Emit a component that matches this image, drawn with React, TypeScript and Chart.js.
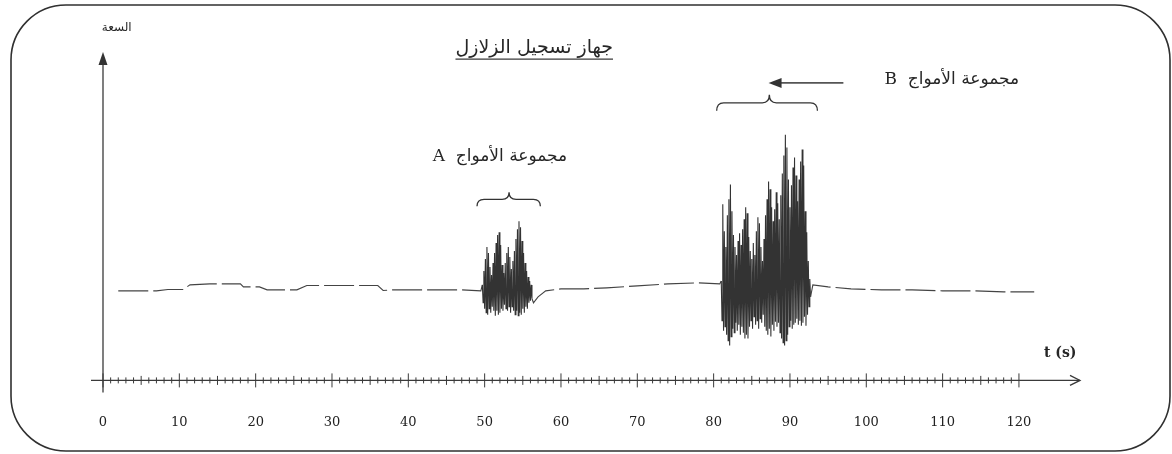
import React, { useEffect, useRef } from "react";
import { Chart, registerables } from "chart.js";

Chart.register(...registerables);

// ---- text ----
const titleText = "جهاز تسجيل الزلازل";
const yAxisLabel = "السعة";
const xAxisLabel = "t (s)";
const groupALabel = "مجموعة الأمواج  A";
const groupBLabel = "مجموعة الأمواج  B";

// ---- axis ticks (s) ----
const tickValues = [0, 10, 20, 30, 40, 50, 60, 70, 80, 90, 100, 110, 120];

// ---- quiet trace segments (time s, amplitude) ----
const quiet1Times = [2, 5, 7, 8.5, 10.5, 11.4, 14, 18, 18.4, 20.5, 21.5, 25.4, 26.7, 31, 36, 36.7, 38, 43, 47, 49.5];
const quiet1Values = [0, 0, 0, 0.07, 0.07, 0.3, 0.35, 0.35, 0.2, 0.2, 0.05, 0.05, 0.27, 0.27, 0.27, 0.02, 0.05, 0.05, 0.05, 0];

const quiet2Times = [56.4, 57, 58, 60, 63, 66, 70, 74, 78, 80.8];
const quiet2Values = [-0.6, -0.3, 0, 0.1, 0.1, 0.15, 0.25, 0.35, 0.4, 0.35];

const quiet3Times = [93, 95, 98, 102, 106, 110, 114, 118, 122];
const quiet3Values = [0.3, 0.2, 0.1, 0.05, 0.05, 0, 0, -0.05, -0.05];

// ---- wave group A, sampled every 0.1 s from 49.7 s ----
const burstAStart = 49.7;
const burstAStep = 0.1;
const burstAValues = [
  0.3, -0.6, 1.0, -0.9, 1.6, -1.1, 2.2, -1.2, 1.9, -0.9,
  1.2, -1.1, 0.8, -0.8, 1.4, -1.0, 1.9, -1.25, 2.4, -1.0,
  2.8, -1.2, 2.95, -1.1, 2.3, -0.9, 1.3, -1.0, 0.9, -0.7,
  1.4, -0.9, 1.9, -1.0, 2.2, -0.8, 1.7, -1.1, 1.1, -0.8,
  1.5, -1.0, 2.0, -1.2, 2.6, -1.0, 3.1, -1.25, 3.5, -1.1,
  3.2, -1.2, 2.5, -0.9, 1.9, -1.1, 1.4, -0.8, 1.0, -0.9,
  0.7, -0.6, 0.5, -0.5, 0.3, -0.4,
];

// ---- wave group B, sampled every 0.1 s from 81.0 s ----
const burstBStart = 81.0;
const burstBStep = 0.1;
const burstBValues = [
  0.5, -1.5, 4.35, -2.0, 3.0, -1.8, 2.2, -2.2, 3.8, -2.5,
  4.6, -2.75, 5.35, -2.3, 4.0, -1.9, 2.8, -2.1, 2.2, -1.6,
  1.8, -2.0, 2.5, -1.7, 2.9, -2.2, 2.3, -1.8, 3.1, -2.1,
  3.6, -2.4, 4.2, -2.2, 3.9, -2.4, 2.7, -1.8, 2.0, -1.5,
  1.6, -1.9, 2.4, -1.3, 1.8, -1.7, 3.0, -1.5, 3.7, -1.9,
  3.4, -1.4, 2.2, -1.6, 1.5, -1.2, 2.6, -1.8, 3.8, -2.0,
  4.6, -2.2, 5.5, -1.9, 5.1, -2.3, 4.2, -1.7, 3.5, -2.0,
  4.1, -1.55, 4.95, -1.8, 4.4, -1.6, 3.6, -2.1, 4.8, -2.4,
  5.9, -2.6, 6.8, -2.75, 7.85, -2.5, 7.2, -2.2, 5.6, -1.8,
  4.2, -1.5, 5.3, -1.9, 6.2, -1.7, 6.7, -1.6, 5.8, -1.4,
  4.5, -1.7, 5.6, -1.5, 6.5, -1.75, 7.1, -1.6, 6.3, -1.3,
  4.0, -1.75, 2.95, -1.2, 1.5, -0.8, 0.6, -0.3,
];

type Pt = { x: number; y: number };

function fromTimes(times: number[], values: number[]): Pt[] {
  return times.map((t, i) => ({ x: t, y: values[i] }));
}
function fromSamples(start: number, step: number, values: number[]): Pt[] {
  return values.map((v, i) => ({ x: Math.round((start + i * step) * 100) / 100, y: v }));
}

const burstAEnd = burstAStart + burstAStep * (burstAValues.length - 1);
const burstBEnd = burstBStart + burstBStep * (burstBValues.length - 1);

const tracePoints: Pt[] = [
  ...fromTimes(quiet1Times, quiet1Values),
  ...fromSamples(burstAStart, burstAStep, burstAValues),
  ...fromTimes(quiet2Times, quiet2Values),
  ...fromSamples(burstBStart, burstBStep, burstBValues),
  ...fromTimes(quiet3Times, quiet3Values),
];

function inBurst(t: number) {
  return (t >= burstAStart - 0.01 && t <= burstAEnd + 0.01) || (t >= burstBStart - 0.01 && t <= burstBEnd + 0.01);
}

const INK = "#262626";
const SERIF = "'DejaVu Serif', 'Liberation Serif', serif";
const ARABIC = "'DejaVu Serif', 'DejaVu Sans', sans-serif";

function brace(ctx: CanvasRenderingContext2D, x1: number, x2: number, xm: number, y: number, h: number) {
  const r = 7;
  ctx.beginPath();
  ctx.moveTo(x1, y + h);
  ctx.quadraticCurveTo(x1, y, x1 + r, y);
  ctx.lineTo(xm - r, y);
  ctx.quadraticCurveTo(xm, y, xm, y - h);
  ctx.quadraticCurveTo(xm, y, xm + r, y);
  ctx.lineTo(x2 - r, y);
  ctx.quadraticCurveTo(x2, y, x2, y + h);
  ctx.stroke();
}

const decorPlugin = {
  id: "decor",
  afterDraw(chart: any) {
    const { ctx, chartArea, scales } = chart;
    const xs = scales.x;
    const ys = scales.y;
    const px = (t: number) => xs.getPixelForValue(t);
    const py = (v: number) => ys.getPixelForValue(v);
    ctx.save();

    // frame
    ctx.strokeStyle = "#303030";
    ctx.lineWidth = 1.6;
    ctx.beginPath();
    (ctx as any).roundRect(11, 5, 1159, 446, 55);
    ctx.stroke();

    // x axis with arrow
    const x0 = px(0);
    const yb = chartArea.bottom;
    ctx.strokeStyle = "#3a3a3a";
    ctx.lineWidth = 1.3;
    ctx.beginPath();
    ctx.moveTo(x0 - 12, yb);
    ctx.lineTo(chartArea.right, yb);
    ctx.stroke();
    ctx.beginPath();
    ctx.moveTo(chartArea.right - 10, yb - 5);
    ctx.lineTo(chartArea.right, yb);
    ctx.lineTo(chartArea.right - 10, yb + 5);
    ctx.stroke();

    // ticks every second
    ctx.lineWidth = 1;
    for (let s = 0; s <= 120; s++) {
      const len = s % 10 === 0 ? 7 : s % 5 === 0 ? 4.5 : 3;
      const x = px(s);
      ctx.beginPath();
      ctx.moveTo(x, yb - len);
      ctx.lineTo(x, yb + len);
      ctx.stroke();
    }

    // y axis with arrow
    ctx.lineWidth = 1.3;
    ctx.beginPath();
    ctx.moveTo(x0, yb + 12);
    ctx.lineTo(x0, chartArea.top);
    ctx.stroke();
    ctx.fillStyle = "#333";
    ctx.beginPath();
    ctx.moveTo(x0, chartArea.top - 8);
    ctx.lineTo(x0 - 4.5, chartArea.top + 5);
    ctx.lineTo(x0 + 4.5, chartArea.top + 5);
    ctx.closePath();
    ctx.fill();

    // texts
    ctx.fillStyle = INK;
    ctx.textBaseline = "middle";
    ctx.textAlign = "center";

    ctx.direction = "rtl";
    ctx.font = `19px ${ARABIC}`;
    const tx = px(56.5);
    const ty = py(12.2);
    ctx.fillText(titleText, tx, ty);
    const tw = ctx.measureText(titleText).width;
    ctx.lineWidth = 1.2;
    ctx.beginPath();
    ctx.moveTo(tx - tw / 2, ty + 11);
    ctx.lineTo(tx + tw / 2, ty + 11);
    ctx.stroke();

    ctx.font = `12px ${ARABIC}`;
    ctx.fillText(yAxisLabel, px(1.8), py(13.2));

    ctx.font = `17px ${ARABIC}`;
    ctx.fillText(groupALabel, px(52.0), py(6.75));
    ctx.fillText(groupBLabel, px(111.2), py(10.6));

    ctx.direction = "ltr";
    ctx.font = `bold 14px ${SERIF}`;
    ctx.fillText(xAxisLabel, px(125.4), py(-3.15));

    // braces
    ctx.strokeStyle = "#333";
    ctx.lineWidth = 1.3;
    brace(ctx, px(49.0), px(57.3), px(53.2), py(4.6), 7);
    brace(ctx, px(80.4), px(93.6), px(87.3), py(9.45), 8);

    // arrow to group B
    const ay = py(10.45);
    const ax1 = px(97.0);
    const ax2 = px(87.2);
    ctx.strokeStyle = "#555";
    ctx.lineWidth = 1.6;
    ctx.beginPath();
    ctx.moveTo(ax1, ay);
    ctx.lineTo(ax2 + 8, ay);
    ctx.stroke();
    ctx.fillStyle = "#333";
    ctx.beginPath();
    ctx.moveTo(ax2, ay);
    ctx.lineTo(ax2 + 13, ay - 5);
    ctx.lineTo(ax2 + 13, ay + 5);
    ctx.closePath();
    ctx.fill();

    ctx.restore();
  },
};

export default function App() {
  const canvasRef = useRef<HTMLCanvasElement | null>(null);

  useEffect(() => {
    const canvas = canvasRef.current;
    if (!canvas) return;
    const chart = new Chart(canvas, {
      type: "line",
      data: {
        datasets: [
          {
            label: "trace",
            data: tracePoints,
            borderColor: "#333",
            borderWidth: 1.1,
            pointRadius: 0,
            tension: 0,
            fill: false,
            segment: {
              borderDash: (c: any) =>
                !inBurst(c.p0.parsed.x) || !inBurst(c.p1.parsed.x) ? [30, 5] : [],
              borderColor: (c: any) =>
                !inBurst(c.p0.parsed.x) || !inBurst(c.p1.parsed.x) ? "#444" : "#333",
            },
          },
        ],
      },
      options: {
        animation: false,
        responsive: true,
        maintainAspectRatio: false,
        devicePixelRatio: 1,
        layout: { padding: { left: 103, right: 92, top: 60, bottom: 0 } },
        plugins: { legend: { display: false }, tooltip: { enabled: false }, title: { display: false } },
        scales: {
          x: {
            type: "linear",
            min: 0,
            max: 128,
            grid: { display: false, drawTicks: false },
            border: { display: false },
            afterBuildTicks: (scale: any) => {
              scale.ticks = tickValues.map((v) => ({ value: v }));
            },
            ticks: {
              padding: 34,
              color: "#222",
              autoSkip: false,
              maxRotation: 0,
              font: { family: SERIF, size: 13 },
              callback: (v: any) => String(v),
            },
          },
          y: {
            type: "linear",
            display: false,
            min: -4.5,
            max: 11.6,
          },
        },
      },
      plugins: [decorPlugin],
    });
    return () => chart.destroy();
  }, []);

  return (
    <div style={{ position: "fixed", left: 0, top: 0, width: 1172, height: 464, background: "#fff", overflow: "hidden" }}>
      <canvas ref={canvasRef} />
    </div>
  );
}
